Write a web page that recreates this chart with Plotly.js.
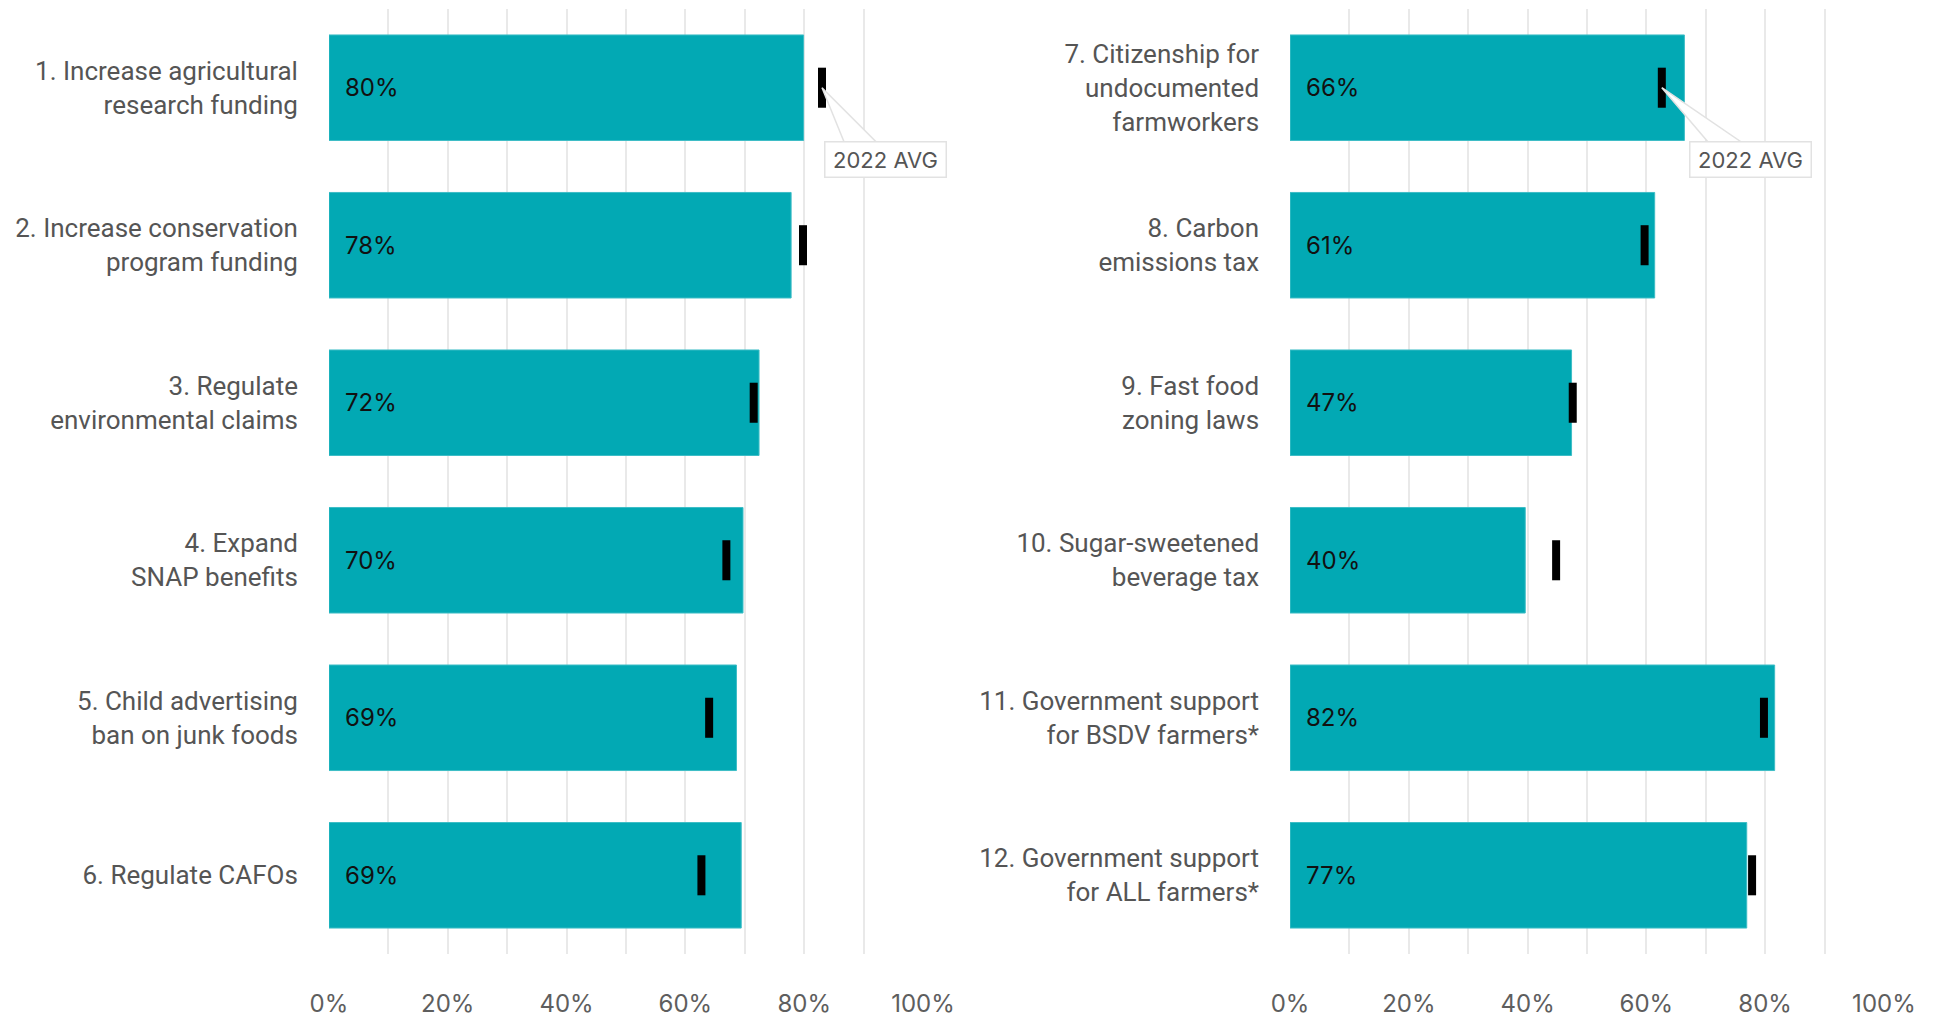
<!DOCTYPE html>
<html><head><meta charset="utf-8">
<script src="https://cdn.plot.ly/plotly-3.0.1.min.js"></script>
<style>html,body{margin:0;padding:0;background:#fff}#chart{width:1935px;height:1017px}</style>
</head><body><div id="chart"></div>
<script>
// ---- data ----
const leftCategories = [
  "1. Increase agricultural<br>research funding",
  "2. Increase conservation<br>program funding",
  "3. Regulate<br>environmental claims",
  "4. Expand<br>SNAP benefits",
  "5. Child advertising<br>ban on junk foods",
  "6. Regulate CAFOs"
];
const leftValues = [79.9, 77.8, 72.4, 69.7, 68.6, 69.4];
const leftLabels = ["80%", "78%", "72%", "70%", "69%", "69%"];
const leftAvg2022 = [83.0, 79.8, 71.5, 66.9, 64.0, 62.7];

const rightCategories = [
  "7. Citizenship for<br>undocumented<br>farmworkers",
  "8. Carbon<br>emissions tax",
  "9. Fast food<br>zoning laws",
  "10. Sugar-sweetened<br>beverage tax",
  "11. Government support<br>for BSDV farmers*",
  "12. Government support<br>for ALL farmers*"
];
const rightValues = [66.4, 61.4, 47.4, 39.6, 81.6, 76.9];
const rightLabels = ["66%", "61%", "47%", "40%", "82%", "77%"];
const rightAvg2022 = [62.6, 59.7, 47.6, 44.8, 79.8, 77.8];

const avgLabel = "2022 AVG";

// ---- styling ----
const FONT = "Inter, Roboto, 'Noto Sans', sans-serif";
const LABEL_FONT = "Roboto, Inter, sans-serif";
const TEAL = "#02a9b4";

function barTrace(cats, vals, xa, ya) {
  return {type: "bar", orientation: "h", x: vals, y: cats, xaxis: xa, yaxis: ya,
    width: 0.67, marker: {color: TEAL, line: {color: "#3dbdc6", width: 1}},
    hoverinfo: "skip", showlegend: false};
}
function avgTrace(cats, vals, xa, ya) {
  return {type: "scatter", mode: "markers", x: vals, y: cats, xaxis: xa, yaxis: ya,
    marker: {symbol: "line-ns", size: 28.6, color: "#000", line: {color: "#000", width: 8}},
    cliponaxis: false, hoverinfo: "skip", showlegend: false};
}

const data = [
  barTrace(leftCategories, leftValues, "x", "y"),
  avgTrace(leftCategories, leftAvg2022, "x", "y"),
  barTrace(rightCategories, rightValues, "x2", "y2"),
  avgTrace(rightCategories, rightAvg2022, "x2", "y2")
];

function xAxis(domain) {
  return {domain: domain, range: [0, 100], dtick: 20, tick0: 0, ticksuffix: "%",
    showgrid: true, gridcolor: "#e9e9e9", gridwidth: 2, zeroline: false, showline: false,
    minor: {dtick: 10, showgrid: true, gridcolor: "#e9e9e9", gridwidth: 2},
    ticks: "", ticklabelstandoff: 33, automargin: false,
    tickfont: {family: FONT, size: 24, color: "#5e5e5e"}, fixedrange: true};
}
function yAxis(anchor, cats) {
  return {domain: [0.0619, 0.9912], anchor: anchor, type: "category",
    categoryorder: "array", categoryarray: cats,
    range: [cats.length - 0.5, -0.5], autorange: false,
    showgrid: false, zeroline: false, showline: false,
    ticks: "", ticklabelstandoff: 30, automargin: false,
    tickfont: {family: LABEL_FONT, size: 26, color: "#555"}, fixedrange: true};
}

const annotations = [];
function pctLabels(cats, labels, xr, yr) {
  cats.forEach((c, i) => annotations.push({xref: xr, yref: yr, x: 0, y: c, text: labels[i],
    xanchor: "left", yanchor: "middle", xshift: 14, showarrow: false,
    font: {family: FONT, size: 24, color: "#111"}}));
}
pctLabels(leftCategories, leftLabels, "x", "y");
pctLabels(rightCategories, rightLabels, "x2", "y2");

function callout(cat, val, xr, yr, xshift) {
  annotations.push({xref: xr, yref: yr, x: val, y: cat, text: avgLabel,
    xanchor: "left", yanchor: "top", xshift: xshift, yshift: -53, showarrow: false,
    bgcolor: "#fff", bordercolor: "#e2e2e2", borderwidth: 1.5, borderpad: 2,
    width: 116, height: 30, font: {family: FONT, size: 22, color: "#555"}});
}
callout(leftCategories[0], leftAvg2022[0], "x", "y", 2);
callout(rightCategories[0], rightAvg2022[0], "x2", "y2", 27);

// callout pointer (wedge) anchored at the 2022 average marker
function wedge(val, xr, yr, a, b) {
  return {type: "path", xref: xr, yref: yr, xsizemode: "pixel", ysizemode: "pixel",
    xanchor: val, yanchor: 0, layer: "above",
    path: "M0,0L" + a + ",-54L" + b + ",-54Z",
    fillcolor: "#ffffff", line: {color: "#e2e2e2", width: 1.5}};
}
const shapes = [
  wedge(leftAvg2022[0], "x", "y", 22, 54),
  wedge(rightAvg2022[0], "x2", "y2", 46, 79)
];

const layout = {
  width: 1935, height: 1017,
  margin: {l: 0, r: 0, t: 0, b: 0},
  paper_bgcolor: "#fff", plot_bgcolor: "#fff",
  font: {family: FONT},
  xaxis: xAxis([0.1700, 0.4770]),
  yaxis: yAxis("x", leftCategories),
  xaxis2: xAxis([0.6667, 0.9736]),
  yaxis2: yAxis("x2", rightCategories),
  annotations: annotations,
  shapes: shapes,
  showlegend: false
};
Plotly.newPlot("chart", data, layout, {displayModeBar: false, staticPlot: true});
</script></body></html>
